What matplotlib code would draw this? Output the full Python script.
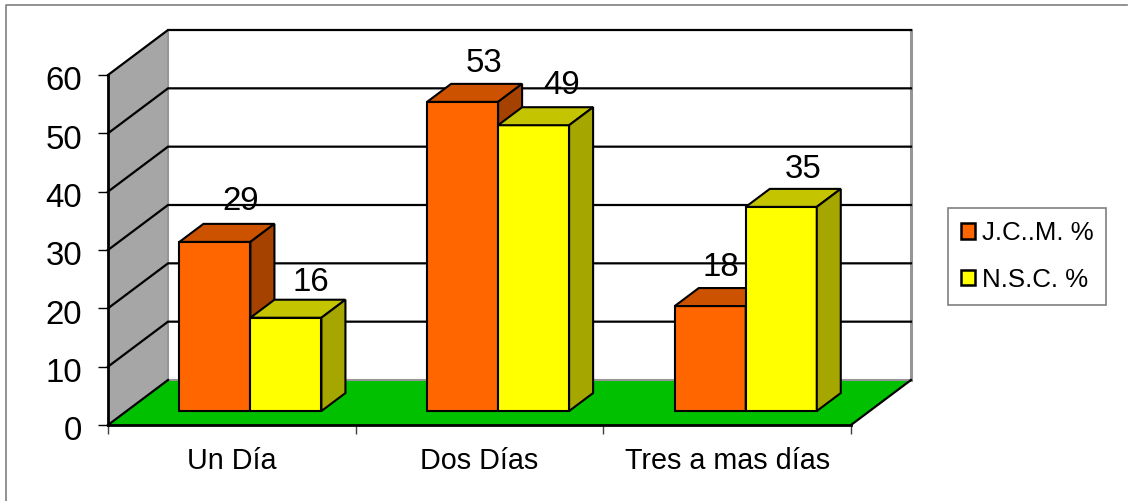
import matplotlib
matplotlib.use("Agg")
import matplotlib.pyplot as plt
from matplotlib.patches import Polygon, Rectangle
from matplotlib.transforms import ScaledTranslation

plt.rcParams['font.family'] = ['Liberation Sans', 'DejaVu Sans']

categories = ['Un Día', 'Dos Días', 'Tres a mas días']
series_names = ['J.C..M. %', 'N.S.C. %']
jcm_values = [29, 53, 18]
nsc_values = [16, 49, 35]
y_ticks = [0, 10, 20, 30, 40, 50, 60]

W, H = 1130, 501
fig = plt.figure(figsize=(W / 100, H / 100), dpi=100)
# the axes is the front plane of the 3d box
ax = fig.add_axes([108 / W, (H - 425) / H, 743 / W, 350 / H])
ax.set_xlim(0, 3)
ax.set_ylim(0, 60)
for s in ax.spines.values():
    s.set_visible(False)
ax.patch.set_visible(False)

# depth of box in data units
depth_x = 60 / (743 / 3)
depth_y = 45 / (350 / 60)
bar_w = 0.2867
front = 0.31
back = 0.71


def shift(x, y, d):
    return (x + d * depth_x, y + d * depth_y)


def poly(pts, color, z, lw=1.5, ec='black'):
    ax.add_patch(Polygon(pts, closed=True, facecolor=color, edgecolor=ec, linewidth=lw,
                         clip_on=False, zorder=z, joinstyle='miter'))


# walls and floor
poly([shift(0, 0, 0), shift(0, 60, 0), shift(0, 60, 1), shift(0, 0, 1)], '#A6A6A6', 1, lw=0)
poly([shift(0, 0, 0), shift(3, 0, 0), shift(3, 0, 1), shift(0, 0, 1)], '#00C000', 1, lw=0)

ax.plot(*zip(shift(0, 0, 1), shift(0, 60, 1)), color='#969696', lw=1.5, clip_on=False, zorder=1.5)
ax.plot(*zip(shift(3, 0, 1), shift(3, 60, 1)), color='#969696', lw=2.2, clip_on=False, zorder=1.5)
ax.plot(*zip(shift(0, 0, 1), shift(3, 0, 1)), color='#969696', lw=1.5, clip_on=False, zorder=1.5)

for t in y_ticks[1:]:
    ax.plot(*zip(shift(0, t, 0), shift(0, t, 1), shift(3, t, 1)), color='black', lw=1.6,
            clip_on=False, zorder=2, solid_joinstyle='miter')
ax.plot(*zip(shift(0, 0, 0), shift(0, 0, 1)), color='black', lw=1.6, clip_on=False, zorder=2)
ax.plot(*zip(shift(3, 0, 0), shift(3, 0, 1)), color='black', lw=1.6, clip_on=False, zorder=2)
ax.plot([0, 3], [0, 0], color='black', lw=2, clip_on=False, zorder=2)
ax.plot([0, 0], [0, 60], color='black', lw=2, clip_on=False, zorder=2)

colors = [('#FF6600', '#CC5200', '#A64200'), ('#FFFF00', '#C4C400', '#A6A600')]
# hand placed value labels, pixels from the bar's front top centre
label_dx = [[26, 21, 11], [25, 28, 22]]
label_up = [[42, 40, 40], [37, 41, 39]]

for i, cat in enumerate(categories):
    x0 = i + 0.5 - bar_w
    for j, vals in enumerate([jcm_values, nsc_values]):
        left = x0 + j * bar_w
        right = left + bar_w
        v = vals[i]
        face, top, side = colors[j]
        z = 3 + j + i * 3
        poly([shift(left, 0, front), shift(right, 0, front), shift(right, v, front), shift(left, v, front)], face, z)
        poly([shift(left, v, front), shift(right, v, front), shift(right, v, back), shift(left, v, back)], top, z)
        poly([shift(right, 0, front), shift(right, 0, back), shift(right, v, back), shift(right, v, front)], side, z)
        fx, fy = shift(left + bar_w / 2, v, front)
        ax.text(fx + label_dx[j][i] / (743 / 3), fy + label_up[j][i] / (350 / 60) - 0.3, str(v),
                ha='center', va='center', fontsize=23.8, color='black', zorder=20, clip_on=False)

ax.set_yticks(y_ticks)
ax.set_xticks([0, 1, 2, 3])
ax.set_xticklabels([])
ax.set_xticks([0.5, 1.5, 2.5], minor=True)
ax.set_xticklabels(categories, minor=True, fontsize=20.7)
ax.tick_params(axis='x', which='major', length=6.5, width=1, color='#404040')
ax.tick_params(axis='x', which='minor', length=0, pad=16)
ax.tick_params(axis='y', length=7, width=1, labelsize=23.8, pad=11.7)
# y labels sit a little under their ticks
for lab in ax.get_yticklabels():
    lab.set_transform(lab.get_transform() + ScaledTranslation(0, -2.5 / 72, fig.dpi_scale_trans))

handles = [Rectangle((0, 0), 1, 1, facecolor=colors[j][0], edgecolor='black', linewidth=1.8) for j in range(2)]
leg = fig.legend(handles, series_names, loc='upper left', bbox_to_anchor=(948 / W, (H - 208) / H),
                 borderaxespad=0, fontsize=18.6, fancybox=False, edgecolor='#7f7f7f', framealpha=1,
                 handlelength=0.55, handleheight=0.55, handletextpad=0.25, labelspacing=0.88,
                 borderpad=0.5)
leg.get_frame().set_linewidth(1.2)

# outer chart border
fig.add_artist(plt.Line2D([6 / W, 6 / W, 1127 / W], [0, (H - 5) / H, (H - 5) / H],
                          color='#7f7f7f', lw=1.2, transform=fig.transFigure))

fig.savefig('out.png', dpi=100, facecolor='white')
